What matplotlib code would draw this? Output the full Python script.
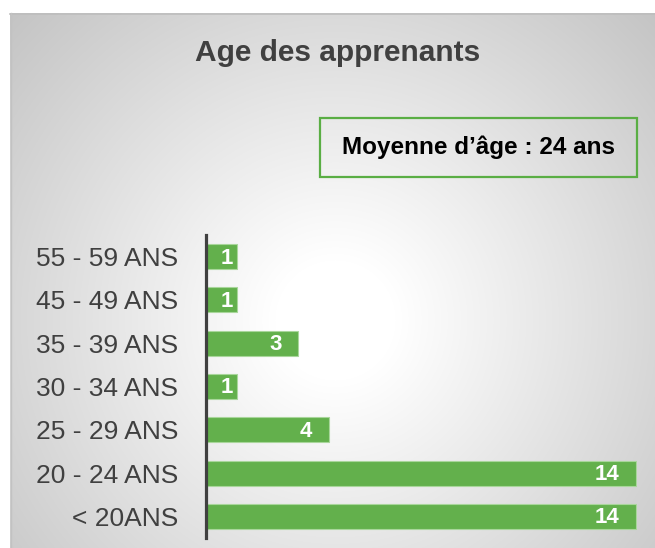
import numpy as np
import matplotlib.pyplot as plt
from matplotlib.patches import Rectangle

categories = ["55 - 59 ANS", "45 - 49 ANS", "35 - 39 ANS", "30 - 34 ANS",
              "25 - 29 ANS", "20 - 24 ANS", "< 20ANS"]
counts = [1, 1, 3, 1, 4, 14, 14]
title = "Age des apprenants"
note = "Moyenne d\u2019âge : 24 ans"

W, H = 655, 548
green = "#63b04c"
dark = "#404040"

plt.rcParams['font.family'] = ['Liberation Sans', 'DejaVu Sans']

fig = plt.figure(figsize=(W / 100, H / 100), dpi=100)

# background: white page, grey radial gradient panel
bg = fig.add_axes([0, 0, 1, 1])
yy, xx = np.mgrid[0:H, 0:W]
d = np.hypot(xx - 335, yy - 320)
shade = 1 - (1 - 0.76) * np.clip((d - 60) / 400, 0, 1)
shade[(xx < 10) | (yy < 13)] = 1.0
bg.imshow(np.dstack([shade] * 3), extent=(0, W, H, 0), interpolation="bilinear")
bg.plot([10, W], [13.5, 13.5], color="#bdbdbd", lw=1.2)
bg.plot([10.5, 10.5], [13, H], color="#c2c2c2", lw=1.0)
bg.add_patch(Rectangle((320, 118), 317, 59, facecolor="none",
                       edgecolor="#5aae44", lw=1.6))
bg.set_xlim(0, W)
bg.set_ylim(H, 0)
bg.axis("off")

fig.text(338 / W, 1 - 53 / H, title, ha="center", va="center",
         fontsize=21.5, fontweight="bold", color=dark)
fig.text(478 / W, 1 - 147 / H, note, ha="center", va="center",
         fontsize=17.5, fontweight="bold", color="black")

# bar chart
ax = fig.add_axes([206 / W, 10 / H, 431 / W, 303 / H])
ax.patch.set_alpha(0)
y = np.arange(len(categories))
ax.barh(y, counts, height=0.58, color=green, edgecolor="#a9d69b", linewidth=0.8)
ax.set_ylim(len(categories) - 0.5, -0.5)
ax.set_xlim(0, 14.03)
ax.set_yticks(y)
ax.set_yticklabels(categories, fontsize=19, color=dark)
ax.tick_params(axis="y", length=0, pad=20)
ax.set_xticks([])
for s in ["top", "right", "bottom"]:
    ax.spines[s].set_visible(False)
ax.spines["left"].set_color(dark)
ax.spines["left"].set_linewidth(2.3)

for i, v in enumerate(counts):
    pad = 12 if v > 1 else 3
    ax.annotate(str(v), xy=(v, i), xytext=(-pad, -1), textcoords="offset points",
                ha="right", va="center", fontsize=16, fontweight="bold",
                color="white")

fig.savefig("out.png", dpi=100)
